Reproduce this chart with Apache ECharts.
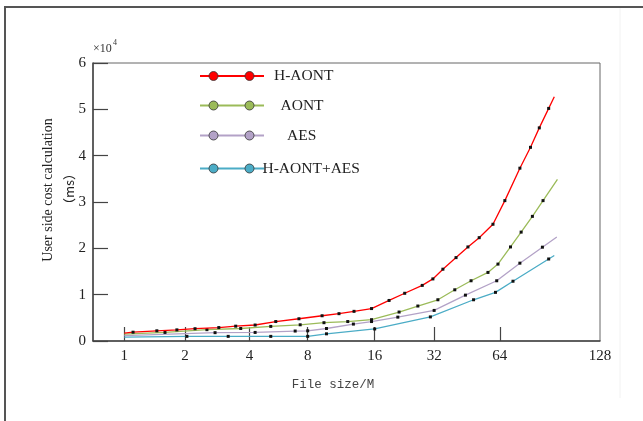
<!DOCTYPE html>
<html><head><meta charset="utf-8">
<script src="https://cdn.jsdelivr.net/npm/echarts@6/dist/echarts.min.js"></script>
<style>html,body{margin:0;padding:0;background:#fff}#c{width:643px;height:421px}</style>
</head><body><div id="c"></div>
<script>
// x values are positions along the (log-like) file-size axis; y values in units of 10^4 ms
const seriesNames = ['H-AONT', 'AONT', 'AES', 'H-AONT+AES'];
const colors = ['#ff0000', '#9bbb59', '#b3a2c7', '#4bacc6'];

const hAontX = [0, 0.14, 0.52, 0.84, 1.13, 1.51, 1.78, 2.09, 2.42, 2.79, 3.16, 3.43, 3.67, 3.95, 4.23, 4.48, 4.76, 4.93, 5.09, 5.30, 5.49, 5.67, 5.89, 6.08, 6.32, 6.49, 6.63, 6.78, 6.87];
const hAontY = [0.17, 0.19, 0.22, 0.24, 0.265, 0.29, 0.32, 0.345, 0.42, 0.48, 0.545, 0.59, 0.64, 0.70, 0.875, 1.03, 1.20, 1.34, 1.55, 1.80, 2.03, 2.23, 2.52, 3.03, 3.73, 4.18, 4.60, 5.02, 5.27];

const aontX = [0, 0.65, 1.32, 1.86, 2.34, 2.81, 3.19, 3.57, 3.95, 4.39, 4.69, 5.01, 5.28, 5.54, 5.81, 5.97, 6.17, 6.34, 6.52, 6.69, 6.92];
const aontY = [0.15, 0.185, 0.245, 0.27, 0.315, 0.35, 0.395, 0.42, 0.46, 0.625, 0.755, 0.89, 1.105, 1.30, 1.48, 1.66, 2.03, 2.35, 2.69, 3.03, 3.49];

const aesX = [0, 1.45, 2.09, 2.73, 2.93, 3.23, 3.66, 3.95, 4.37, 4.95, 5.45, 5.95, 6.32, 6.68, 6.91];
const aesY = [0.115, 0.18, 0.185, 0.215, 0.22, 0.27, 0.365, 0.42, 0.515, 0.66, 0.99, 1.30, 1.68, 2.025, 2.245];

const bothX = [0, 1.0, 1.66, 2.34, 2.93, 3.23, 4.0, 4.89, 5.58, 5.93, 6.21, 6.78, 6.87];
const bothY = [0.085, 0.1, 0.1, 0.1, 0.1, 0.155, 0.26, 0.52, 0.89, 1.05, 1.29, 1.77, 1.845];

const xTickValues = [0, 0.97, 2, 2.93, 4, 4.95, 6, 7.6];
const xTickLabels = ['1', '2', '4', '8', '16', '32', '64', '128'];
const yTickLabels = ['0', '1', '2', '3', '4', '5', '6'];

const xsAll = [hAontX, aontX, aesX, bothX];
const ysAll = [hAontY, aontY, aesY, bothY];

function pairs(xs, ys) {
  return xs.map((x, i) => {
    const item = { value: [x, ys[i]] };
    if (i === 0 || i === xs.length - 1) item.symbol = 'none';
    return item;
  });
}

const serif = 'Liberation Serif';
const chart = echarts.init(document.getElementById('c'), null, { renderer: 'canvas' });

const legendYs = [76, 105.5, 135.5, 168.5];
const legendTextX = [274, 280.5, 287, 262.5];
const graphics = [
  { type: 'rect', shape: { x: 5, y: 7, width: 700, height: 500 }, style: { fill: 'none', stroke: '#555', lineWidth: 2 }, silent: true },
  { type: 'line', shape: { x1: 620, y1: 8, x2: 620, y2: 398 }, style: { stroke: '#f2f2f2', lineWidth: 1 }, silent: true },
  { type: 'text', left: 93, top: 43, style: { text: '×10', font: '12px "' + serif + '"', fill: '#333' } },
  { type: 'text', left: 113, top: 39, style: { text: '4', font: '8px "' + serif + '"', fill: '#333' } },
  { type: 'text', x: 48, y: 190, rotation: Math.PI / 2, style: { text: 'User side cost calculation', font: '14px "' + serif + '"', fill: '#222', align: 'center', verticalAlign: 'middle' } },
  { type: 'text', x: 69, y: 189, rotation: Math.PI / 2, style: { text: '（ms）', font: '13px "Noto Sans CJK SC"', fill: '#222', align: 'center', verticalAlign: 'middle' } },
  { type: 'text', x: 333, y: 385, style: { text: 'File size/M', font: '12.5px "Liberation Mono"', fill: '#444', align: 'center', verticalAlign: 'middle' } }
];
seriesNames.forEach((n, i) => {
  const y = legendYs[i];
  graphics.push({ type: 'line', shape: { x1: 200, y1: y, x2: 264, y2: y }, style: { stroke: colors[i], lineWidth: 2.2 } });
  graphics.push({ type: 'circle', shape: { cx: 213.5, cy: y, r: 4.5 }, style: { fill: colors[i], stroke: '#333', lineWidth: 0.8 } });
  graphics.push({ type: 'circle', shape: { cx: 249.5, cy: y, r: 4.5 }, style: { fill: colors[i], stroke: '#333', lineWidth: 0.8 } });
  graphics.push({ type: 'text', x: legendTextX[i], y: y, style: { text: n, font: '15.5px "' + serif + '"', fill: '#222', verticalAlign: 'middle' } });
});

chart.setOption({
  animation: false,
  backgroundColor: '#fff',
  grid: { left: 93, right: 43, top: 63, bottom: 80, show: true, borderColor: '#666', borderWidth: 1 },
  xAxis: {
    type: 'value', min: -0.5, max: 7.6,
    axisLine: { show: true, onZero: false, lineStyle: { color: '#444', width: 1.5 } },
    axisTick: { show: true, inside: true, length: 14, customValues: xTickValues.slice(0, 7), lineStyle: { color: '#444', width: 1.2 } },
    axisLabel: {
      customValues: xTickValues, margin: 8, color: '#222', fontFamily: serif, fontSize: 15,
      formatter: v => { let k = 0, d = 1e9; xTickValues.forEach((t, j) => { if (Math.abs(t - v) < d) { d = Math.abs(t - v); k = j; } }); return xTickLabels[k]; }
    },
    splitLine: { show: false }
  },
  yAxis: {
    type: 'value', min: 0, max: 6, interval: 1,
    axisLine: { show: true, onZero: false, lineStyle: { color: '#444', width: 1.5 } },
    axisTick: { show: true, inside: true, length: 15, lineStyle: { color: '#444', width: 1.2 } },
    axisLabel: { margin: 7, color: '#222', fontFamily: serif, fontSize: 15, formatter: v => yTickLabels[Math.round(v)] },
    splitLine: { show: false }
  },
  series: seriesNames.map((n, i) => ({
    name: n, type: 'line', data: pairs(xsAll[i], ysAll[i]),
    symbol: 'rect', symbolSize: 3, showAllSymbol: true,
    itemStyle: { color: '#111' },
    lineStyle: { color: colors[i], width: 1.3 },
    z: 10 - i
  })),
  graphic: graphics
});
</script></body></html>
